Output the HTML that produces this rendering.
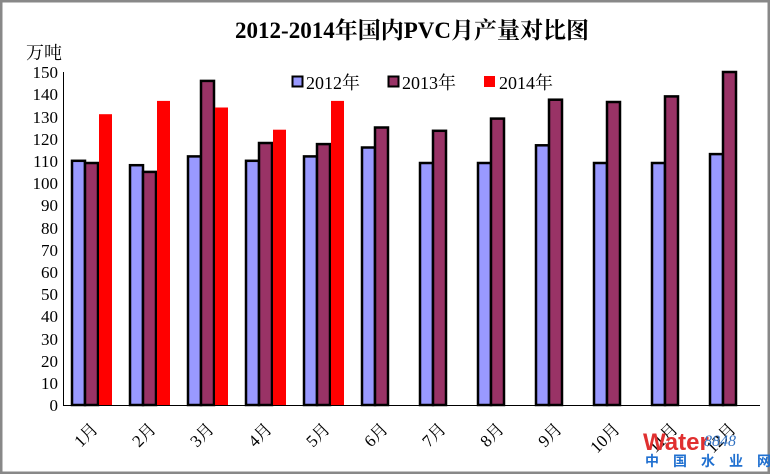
<!DOCTYPE html>
<html><head><meta charset="utf-8"><style>
html,body{margin:0;padding:0;background:#fff}
svg{display:block}
text{font-family:"Liberation Serif","Noto Serif CJK SC",serif;fill:#000}
</style></head><body>
<svg width="770" height="474" viewBox="0 0 770 474" xmlns="http://www.w3.org/2000/svg">
<rect x="1" y="1" width="768" height="472" fill="#fff" stroke="#888" stroke-width="3"/>
<text x="412" y="38" font-size="23" font-weight="bold" text-anchor="middle">2012-2014年国内PVC月产量对比图</text>
<text x="26" y="59" font-size="18">万吨</text>
<g font-size="17" text-anchor="end">
<text x="58" y="411">0</text><text x="58" y="389">10</text><text x="58" y="367">20</text><text x="58" y="345">30</text><text x="58" y="322">40</text><text x="58" y="300">50</text><text x="58" y="278">60</text><text x="58" y="256">70</text><text x="58" y="234">80</text><text x="58" y="211">90</text><text x="58" y="189">100</text><text x="58" y="167">110</text><text x="58" y="145">120</text><text x="58" y="123">130</text><text x="58" y="100">140</text><text x="58" y="78">150</text>
</g>
<g stroke="#000" stroke-width="2.5">
<g fill="#9999ff">
<rect x="72" y="160.8" width="13" height="244.2"/><rect x="130" y="165.2" width="13" height="239.8"/><rect x="188" y="156.4" width="13" height="248.6"/><rect x="246" y="160.8" width="13" height="244.2"/><rect x="304" y="156.4" width="13" height="248.6"/><rect x="362" y="147.5" width="13" height="257.5"/><rect x="420" y="163" width="13" height="242"/><rect x="478" y="163" width="13" height="242"/><rect x="536" y="145.3" width="13" height="259.7"/><rect x="594" y="163" width="13" height="242"/><rect x="652" y="163" width="13" height="242"/><rect x="710" y="154.1" width="13" height="250.9"/>
</g>
<g fill="#993366">
<rect x="85" y="163" width="13" height="242"/><rect x="143" y="171.9" width="13" height="233.1"/><rect x="201" y="80.9" width="13" height="324.1"/><rect x="259" y="143" width="13" height="262"/><rect x="317" y="144.1" width="13" height="260.9"/><rect x="375" y="127.5" width="13" height="277.5"/><rect x="433" y="130.8" width="13" height="274.2"/><rect x="491" y="118.6" width="13" height="286.4"/><rect x="549" y="99.7" width="13" height="305.3"/><rect x="607" y="102" width="13" height="303"/><rect x="665" y="96.4" width="13" height="308.6"/><rect x="723" y="72" width="13" height="333"/>
</g>
</g>
<g fill="#ff0000">
<rect x="99" y="114.2" width="13" height="290.8"/><rect x="157" y="100.9" width="13" height="304.1"/><rect x="215" y="107.5" width="13" height="297.5"/><rect x="273" y="129.7" width="13" height="275.3"/><rect x="331" y="100.9" width="13" height="304.1"/>
</g>
<line x1="63.5" y1="72" x2="63.5" y2="405" stroke="#000" stroke-width="1"/>
<line x1="63" y1="405.5" x2="760" y2="405.5" stroke="#000" stroke-width="1"/>
<g font-size="17" text-anchor="end">
<text transform="translate(99,430) rotate(-45)">1月</text>
<text transform="translate(157,430) rotate(-45)">2月</text>
<text transform="translate(215,430) rotate(-45)">3月</text>
<text transform="translate(273,430) rotate(-45)">4月</text>
<text transform="translate(331,430) rotate(-45)">5月</text>
<text transform="translate(389,430) rotate(-45)">6月</text>
<text transform="translate(447,430) rotate(-45)">7月</text>
<text transform="translate(505,430) rotate(-45)">8月</text>
<text transform="translate(563,430) rotate(-45)">9月</text>
<text transform="translate(621,430) rotate(-45)">10月</text>
<text transform="translate(679,430) rotate(-45)">11月</text>
<text transform="translate(737,430) rotate(-45)">12月</text>
</g>
<rect x="292.5" y="76.5" width="10" height="10" fill="#9999ff" stroke="#000" stroke-width="2"/>
<text x="306" y="89" font-size="18">2012年</text>
<rect x="388.5" y="76.5" width="10" height="10" fill="#993366" stroke="#000" stroke-width="2"/>
<text x="402" y="89" font-size="18">2013年</text>
<rect x="484" y="76" width="11" height="11" fill="#ff0000"/>
<text x="499" y="89" font-size="18">2014年</text>
<text x="643" y="450" font-size="24" font-weight="bold" fill="#e03030" style="font-family:'Liberation Sans',sans-serif;fill:#e03030">Water</text>
<text x="704" y="446" font-size="16" font-style="italic" style="fill:#3070c0">8848</text>
<text x="645" y="466" font-size="14" font-weight="bold" style="font-family:'Noto Sans CJK SC',sans-serif;fill:#2070d0;letter-spacing:14px">中国水业网</text>
</svg>
</body></html>
